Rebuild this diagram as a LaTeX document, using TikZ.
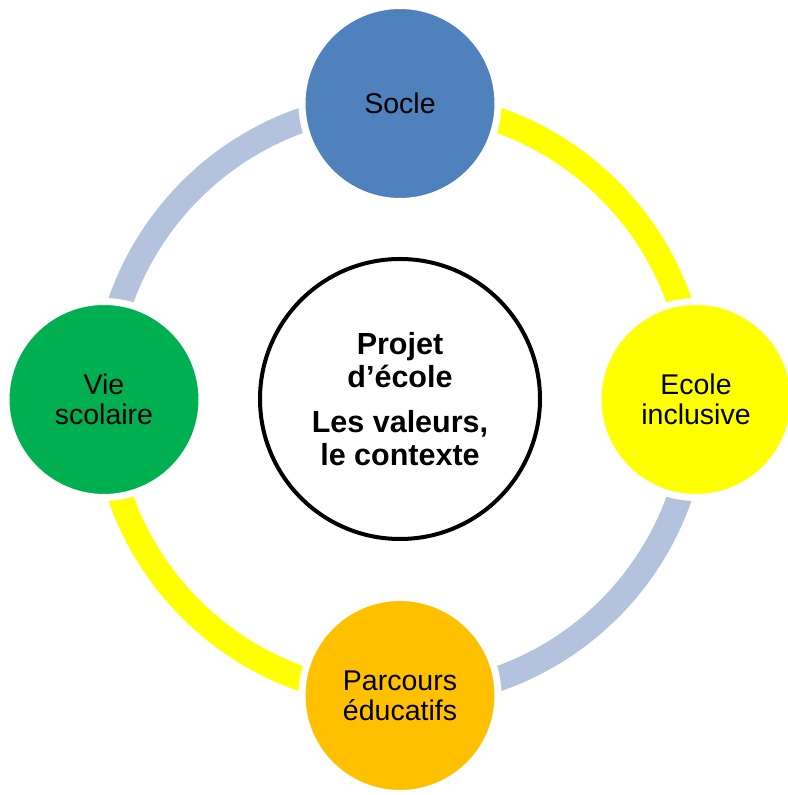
\documentclass[tikz,border=0pt]{standalone}
\usepackage{fontspec}
\setmainfont{Liberation Sans}
\usepackage{xcolor}
\definecolor{soclecolor}{HTML}{4F81BD}
\definecolor{ecolecolor}{HTML}{FFFF00}
\definecolor{parcourscolor}{HTML}{FFC000}
\definecolor{viecolor}{HTML}{00B050}
\definecolor{ringgray}{HTML}{B3C3DE}
\definecolor{ringyellow}{HTML}{FFFF00}
\usetikzlibrary{backgrounds}
\tikzset{
  pillar/.style={circle, draw=white, line width=7pt, minimum size=196pt,
    inner sep=0pt, align=center, text=black,
    font=\fontsize{28.5}{30}\selectfont},
  projet/.style={circle, draw=black, fill=white, line width=4pt,
    minimum size=280pt, inner sep=0pt, align=center,
    font=\fontsize{30.5}{33}\selectfont\bfseries},
  ring/.style={line width=25pt}
}

\begin{document}
\begin{tikzpicture}[x=1pt,y=1pt]
    \useasboundingbox (0,0) rectangle (787,795);
    % the four pillars
    \node[pillar, fill=soclecolor] (socle) at (400,691.5) {Socle};
    \node[pillar, fill=ecolecolor] (ecole) at (696,395.5) {Ecole\\inclusive};
    \node[pillar, fill=parcourscolor] (parcours) at (400,99.5) {Parcours\\éducatifs};
    \node[pillar, fill=viecolor] (vie) at (104,395.5) {Vie\\scolaire};
    % centre
    \node[projet] (projet) at (400,396) {Projet\\d’école\\[12pt]Les valeurs,\\le contexte};
    % the ring, behind the pillars
    \begin{pgfonlayer}{background}
      \fill[white] (0,0) rectangle (787,795);
      \draw[ring, ringgray] (vie.center) arc[start angle=180, end angle=90, radius=296];
      \draw[ring, ringyellow] (socle.center) arc[start angle=90, end angle=0, radius=296];
      \draw[ring, ringgray] (ecole.center) arc[start angle=0, end angle=-90, radius=296];
      \draw[ring, ringyellow] (parcours.center) arc[start angle=-90, end angle=-180, radius=296];
    \end{pgfonlayer}
    \end{tikzpicture}
\end{document}
